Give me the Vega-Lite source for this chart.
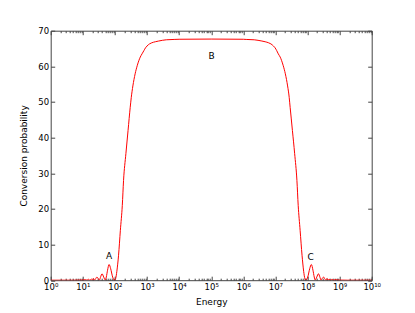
{
  "$schema": "https://vega.github.io/schema/vega-lite/v6.json",
  "width": 321,
  "height": 249.5,
  "autosize": "none",
  "padding": {"left": 50.7, "top": 30.7, "right": 43.3, "bottom": 32.8},
  "background": "white",
  "config": {
    "view": {"stroke": "#444", "strokeWidth": 1},
    "font": "DejaVu Sans",
    "axis": {"labelFont": "DejaVu Sans", "titleFont": "DejaVu Sans", "labelColor": "#000", "titleColor": "#000", "labelFontSize": 8.5, "titleFontSize": 9, "titleFontWeight": "normal", "domain": false, "grid": false, "tickColor": "#444"}
  },
  "datasets": {
    "curve": [
      {"E": 1, "P": 0}, {"E": 5, "P": 0}, {"E": 10, "P": 0.05}, {"E": 12, "P": 0.15}, {"E": 13.5, "P": 0.02},
      {"E": 15, "P": 0.25}, {"E": 16.5, "P": 0.02}, {"E": 18.5, "P": 0.3}, {"E": 20, "P": 0.03},
      {"E": 21.4, "P": 0.5}, {"E": 23.4, "P": 0.03}, {"E": 25.5, "P": 0.5}, {"E": 27.5, "P": 0.9},
      {"E": 30, "P": 0.5}, {"E": 33, "P": 0.04}, {"E": 35.5, "P": 0.8}, {"E": 39.8, "P": 1.8},
      {"E": 44.7, "P": 0.9}, {"E": 50, "P": 0.05}, {"E": 54, "P": 0.9}, {"E": 59, "P": 2.8},
      {"E": 66, "P": 4.4}, {"E": 74, "P": 3.2}, {"E": 85, "P": 0.9}, {"E": 97, "P": 0.02},
      {"E": 105, "P": 0.4}, {"E": 115, "P": 2.5}, {"E": 130, "P": 7}, {"E": 148, "P": 14},
      {"E": 170, "P": 21}, {"E": 186, "P": 28}, {"E": 220, "P": 35.5}, {"E": 257, "P": 42},
      {"E": 300, "P": 48.5}, {"E": 324, "P": 51.3}, {"E": 363, "P": 54.5}, {"E": 427, "P": 57.9},
      {"E": 500, "P": 60.3}, {"E": 617, "P": 62.6}, {"E": 700, "P": 63.5}, {"E": 800, "P": 64.4}, {"E": 900, "P": 65.2},
      {"E": 1000, "P": 65.7}, {"E": 1200, "P": 66.3}, {"E": 1400, "P": 66.6}, {"E": 1820, "P": 66.9},
      {"E": 2300, "P": 67.1}, {"E": 3000, "P": 67.3}, {"E": 4000, "P": 67.45}, {"E": 7000, "P": 67.55},
      {"E": 10000, "P": 67.6}, {"E": 100000, "P": 67.65}, {"E": 1000000, "P": 67.6}, {"E": 1230000, "P": 67.55},
      {"E": 2190000, "P": 67.45}, {"E": 2880000, "P": 67.3}, {"E": 3800000, "P": 67.1}, {"E": 4790000, "P": 66.9},
      {"E": 6170000, "P": 66.6}, {"E": 7240000, "P": 66.3}, {"E": 8710000, "P": 65.7}, {"E": 9770000, "P": 65.2},
      {"E": 11000000, "P": 64.4}, {"E": 12300000, "P": 63.5}, {"E": 14100000, "P": 62.6}, {"E": 17400000, "P": 60.3},
      {"E": 20400000, "P": 57.9}, {"E": 24000000, "P": 54.5}, {"E": 26900000, "P": 51.3}, {"E": 28800000, "P": 48.5},
      {"E": 33900000, "P": 42}, {"E": 39800000, "P": 35.5}, {"E": 46800000, "P": 28}, {"E": 51300000, "P": 21},
      {"E": 58900000, "P": 14}, {"E": 67600000, "P": 7}, {"E": 75900000, "P": 2.5}, {"E": 83200000, "P": 0.4},
      {"E": 89100000, "P": 0.02}, {"E": 102000000, "P": 0.9}, {"E": 117000000, "P": 3.2}, {"E": 132000000, "P": 4.4},
      {"E": 148000000, "P": 2.8}, {"E": 162000000, "P": 0.9}, {"E": 174000000, "P": 0.05}, {"E": 195000000, "P": 0.9},
      {"E": 219000000, "P": 1.8}, {"E": 245000000, "P": 0.8}, {"E": 263000000, "P": 0.04}, {"E": 288000000, "P": 0.5},
      {"E": 316000000, "P": 0.9}, {"E": 339000000, "P": 0.5}, {"E": 372000000, "P": 0.03}, {"E": 407000000, "P": 0.5},
      {"E": 437000000, "P": 0.03}, {"E": 468000000, "P": 0.3}, {"E": 525000000, "P": 0.02}, {"E": 575000000, "P": 0.25},
      {"E": 646000000, "P": 0.02}, {"E": 724000000, "P": 0.15}, {"E": 871000000, "P": 0.05}, {"E": 1740000000, "P": 0},
      {"E": 10000000000, "P": 0}
    ],
    "labels": [
      {"E": 66, "P": 6.8, "t": "A"},
      {"E": 102000, "P": 62.8, "t": "B"},
      {"E": 126000000, "P": 6.6, "t": "C"}
    ]
  },
  "layer": [
    {
      "data": {"name": "curve"},
      "mark": {"type": "line", "color": "#ff0000", "strokeWidth": 1, "clip": true, "interpolate": "monotone"},
      "encoding": {
        "x": {"field": "E", "type": "quantitative", "scale": {"type": "log", "domain": [1, 10000000000], "nice": false},
          "axis": {"orient": "bottom", "title": "Energy", "titlePadding": 5, "tickCount": 100, "labelPadding": 6, "labelAlign": "center",
            "labelExpr": "abs(log(datum.value)/LN10 - round(log(datum.value)/LN10)) < 0.001 ? '10' + ['⁰','¹','²','³','⁴','⁵','⁶','⁷','⁸','⁹','¹⁰'][round(log(datum.value)/LN10)] : ''",
            "tickSize": {"condition": {"test": "abs(log(datum.value)/LN10 - round(log(datum.value)/LN10)) < 0.001", "value": -4}, "value": -2},
            "labelOverlap": false, "labelFlush": false}},
        "y": {"field": "P", "type": "quantitative", "scale": {"domain": [0, 70], "nice": false},
          "axis": {"orient": "left", "title": "Conversion probability", "values": [0, 10, 20, 30, 40, 50, 60, 70], "tickSize": -4, "labelPadding": 6, "titlePadding": 9}}
      }
    },
    {
      "data": {"name": "labels"},
      "mark": {"type": "text", "fontSize": 9, "font": "DejaVu Sans", "color": "#000", "baseline": "middle", "align": "center"},
      "encoding": {
        "x": {"field": "E", "type": "quantitative", "scale": {"type": "log", "domain": [1, 10000000000], "nice": false},
          "axis": {"orient": "top", "title": null, "labels": false, "tickCount": 100,
            "tickSize": {"condition": {"test": "abs(log(datum.value)/LN10 - round(log(datum.value)/LN10)) < 0.001", "value": -4}, "value": -2}}},
        "y": {"field": "P", "type": "quantitative", "scale": {"domain": [0, 70], "nice": false},
          "axis": {"orient": "right", "title": null, "labels": false, "values": [0, 10, 20, 30, 40, 50, 60, 70], "tickSize": -4}},
        "text": {"field": "t"}
      }
    }
  ],
  "resolve": {"axis": {"x": "independent", "y": "independent"}}
}
